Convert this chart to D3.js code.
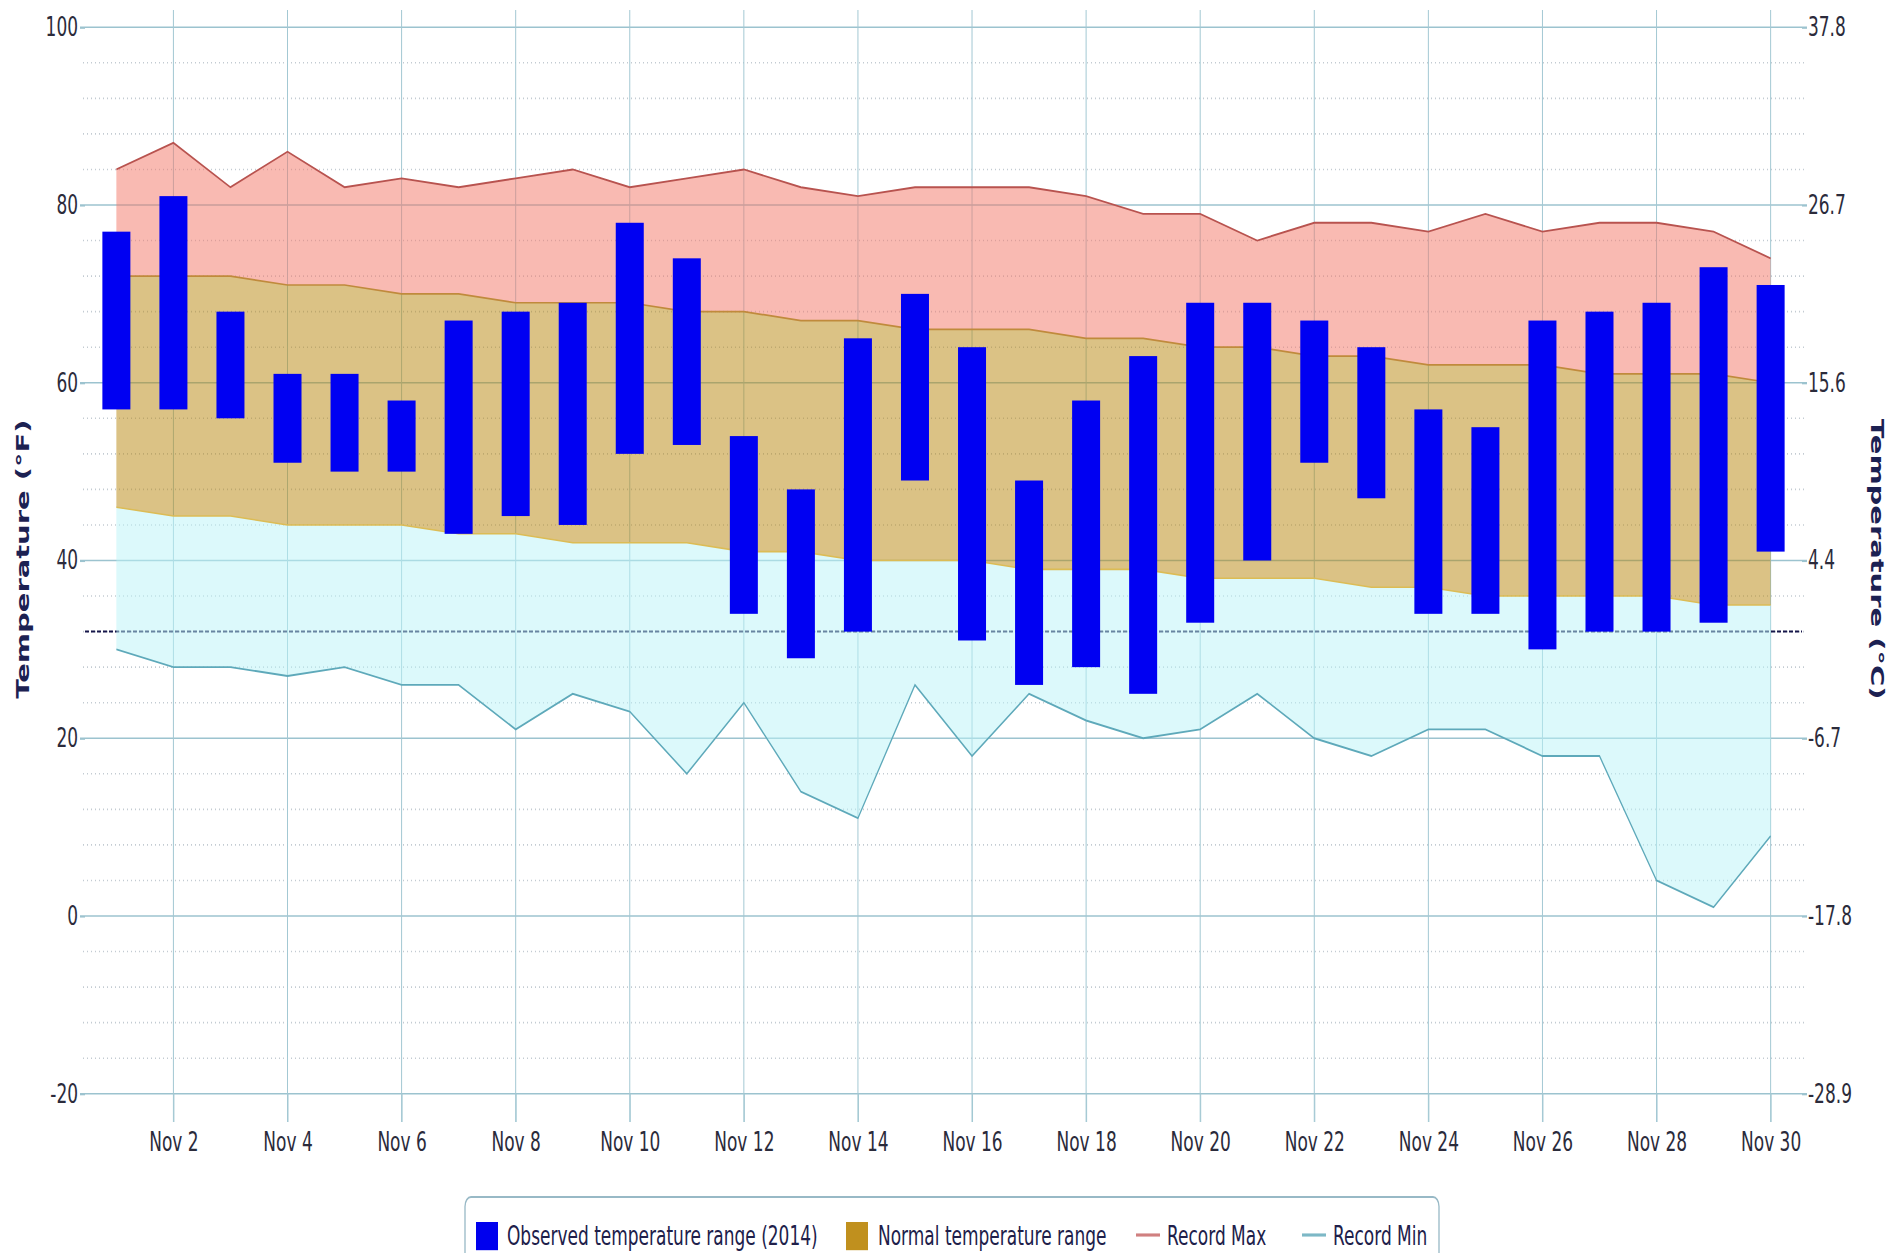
<!DOCTYPE html>
<html><head><meta charset="utf-8">
<script src="https://cdn.jsdelivr.net/npm/d3@7"></script>
<style>html,body{margin:0;padding:0;background:#fff;overflow:hidden}</style>
</head><body><div id="chart"></div>
<script>
// ---- data (°F) ----
const days = d3.range(1, 31);
const obsHigh = [77,81,68,61,61,58,67,68,69,78,74,54,48,65,70,64,49,58,63,69,69,67,64,57,55,67,68,69,73,71];
const obsLow  = [57,57,56,51,50,50,43,45,44,52,53,34,29,32,49,31,26,28,25,33,40,51,47,34,34,30,32,32,33,41];
const normalHigh = [72,72,72,71,71,70,70,69,69,69,68,68,67,67,66,66,66,65,65,64,64,63,63,62,62,62,61,61,61,60];
const normalLow  = [46,45,45,44,44,44,43,43,42,42,42,41,41,40,40,40,39,39,39,38,38,38,37,37,36,36,36,36,35,35];
const recordMax = [84,87,82,86,82,83,82,83,84,82,83,84,82,81,82,82,82,81,79,79,76,78,78,77,79,77,78,78,77,74];
const recordMin = [30,28,28,27,28,26,26,21,25,23,16,24,14,11,26,18,25,22,20,21,25,20,18,21,21,18,18,4,1,9];
const freezing = 32;
const fTicks = [-20,0,20,40,60,80,100];
const fTickLabels = ["-20","0","20","40","60","80","100"];
const cTickLabels = ["-28.9","-17.8","-6.7","4.4","15.6","26.7","37.8"];
const xTickDays = d3.range(2, 31, 2);
const xTickLabels = xTickDays.map(d => "Nov " + d);
const legendLabels = ["Observed temperature range (2014)","Normal temperature range","Record Max","Record Min"];

// ---- layout (picture is stretched vertically) ----
const W = 1895, H = 1253, BH = 800, K = H / BH;
const FONT = "'DejaVu Sans', Verdana, sans-serif";
const svg = d3.select('#chart').append('svg')
  .attr('width', W).attr('height', H)
  .attr('viewBox', `0 0 ${W} ${BH}`)
  .attr('preserveAspectRatio', 'none')
  .style('display', 'block')
  .style('font-family', FONT);

const left = 85, right = 1802;
const x = d3.scaleLinear().domain([0.45, 30.55]).range([left, right]);
const y = d3.scaleLinear().domain([-20, 100]).range([1093.75 / K, 27.25 / K]);
const plotTop = 10 / K;

const rows = days.map((d, i) => ({
  d, oh: obsHigh[i], ol: obsLow[i], nh: normalHigh[i], nl: normalLow[i], rx: recordMax[i], rn: recordMin[i]
}));

// ---- grid ----
const grid = svg.append('g');
const minors = d3.range(-16, 100, 4).filter(v => v % 20 !== 0);
grid.selectAll('line.minor').data(minors).join('line')
  .attr('x1', left - 2).attr('x2', right + 2)
  .attr('y1', v => y(v)).attr('y2', v => y(v))
  .attr('stroke', '#c3cbd2').attr('stroke-width', 1).attr('stroke-dasharray', '1,3');
grid.selectAll('line.major').data(fTicks).join('line')
  .attr('x1', left - 5).attr('x2', right + 5)
  .attr('y1', v => y(v)).attr('y2', v => y(v))
  .attr('stroke', '#9cc3cf').attr('stroke-width', 1);
grid.selectAll('line.vert').data(xTickDays).join('line')
  .attr('x1', d => x(d)).attr('x2', d => x(d))
  .attr('y1', plotTop).attr('y2', y(-20) + 18)
  .attr('stroke', '#a3c8d3').attr('stroke-width', 1);
// freezing line
grid.append('line')
  .attr('x1', left).attr('x2', right)
  .attr('y1', y(freezing)).attr('y2', y(freezing))
  .attr('stroke', '#16164a').attr('stroke-width', 1.3).attr('stroke-dasharray', '4,2');

// ---- areas ----
const areas = svg.append('g');
const aMax = d3.area().x(r => x(r.d)).y0(r => y(r.nh)).y1(r => y(r.rx));
const aNorm = d3.area().x(r => x(r.d)).y0(r => y(r.nl)).y1(r => y(r.nh));
const aMin = d3.area().x(r => x(r.d)).y0(r => y(r.rn)).y1(r => y(r.nl));
areas.append('path').attr('d', aMax(rows)).attr('fill', '#f37565').attr('fill-opacity', 0.5);
areas.append('path').attr('d', aNorm(rows)).attr('fill', '#b8860b').attr('fill-opacity', 0.5);
areas.append('path').attr('d', aMin(rows)).attr('fill', '#b9f3f7').attr('fill-opacity', 0.5);

const ln = acc => d3.line().x(r => x(r.d)).y(r => y(acc(r)));
areas.append('path').attr('d', ln(r => r.nh)(rows)).attr('fill', 'none').attr('stroke', '#c08a3c').attr('stroke-width', 1.1);
areas.append('path').attr('d', ln(r => r.nl)(rows)).attr('fill', 'none').attr('stroke', '#dcbc55').attr('stroke-width', 1);
areas.append('path').attr('d', ln(r => r.rx)(rows)).attr('fill', 'none').attr('stroke', '#b8534f').attr('stroke-width', 1.2);
areas.append('path').attr('d', ln(r => r.rn)(rows)).attr('fill', 'none').attr('stroke', '#5ea9ba').attr('stroke-width', 1.2);

// ---- observed bars ----
const bw = 28;
svg.append('g').selectAll('rect').data(rows).join('rect')
  .attr('x', r => x(r.d) - bw / 2).attr('width', bw)
  .attr('y', r => y(r.oh)).attr('height', r => y(r.ol) - y(r.oh))
  .attr('fill', '#0000f2');

// ---- axes ----
const tickColor = '#2b2b3b';
const yLeft = svg.append('g').attr('transform', `translate(${left},0)`)
  .call(d3.axisLeft(y).tickValues(fTicks).tickSize(5).tickPadding(2).tickFormat((v, i) => fTickLabels[i]));
const yRight = svg.append('g').attr('transform', `translate(${right},0)`)
  .call(d3.axisRight(y).tickValues(fTicks).tickSize(5).tickPadding(1).tickFormat((v, i) => cTickLabels[i]));
const xAx = svg.append('g').attr('transform', `translate(0,${y(-20)})`)
  .call(d3.axisBottom(x).tickValues(xTickDays).tickSize(18).tickPadding(6.6).tickFormat((v, i) => xTickLabels[i]));
[yLeft, yRight, xAx].forEach(g => {
  g.select('.domain').remove();
  g.selectAll('.tick line').attr('stroke', '#9cc3cf');
  g.selectAll('.tick text').attr('fill', tickColor).style('font-size', '17px').style('font-family', FONT);
});
yLeft.selectAll('.tick text').attr('dy', '0.30em');
yRight.selectAll('.tick text').attr('dy', '0.30em');
xAx.selectAll('.tick line').attr('stroke', '#a3c8d3');

// ---- axis titles ----
const titleColor = '#1c2152';
svg.append('text').attr('transform', `translate(29,357) rotate(-90)`)
  .attr('text-anchor', 'middle').attr('fill', titleColor)
  .style('font-size', '18.5px').style('font-weight', 'bold').text('Temperature (°F)');
svg.append('text').attr('transform', `translate(1870.5,357) rotate(90)`)
  .attr('text-anchor', 'middle').attr('fill', titleColor)
  .style('font-size', '18.5px').style('font-weight', 'bold').text('Temperature (°C)');

// ---- legend ----
const lg = svg.append('g');
lg.append('rect').attr('x', 465).attr('y', 1197 / K).attr('width', 974).attr('height', 60)
  .attr('rx', 6).attr('fill', '#fff').attr('stroke', '#98b9c6').attr('stroke-width', 1.3);
const ly = 1245 / K;
const symY = 1222 / K;
lg.append('rect').attr('x', 476).attr('y', symY).attr('width', 22).attr('height', 18).attr('fill', '#0000ee');
lg.append('rect').attr('x', 846).attr('y', symY).attr('width', 22).attr('height', 18).attr('fill', '#c0901e');
lg.append('line').attr('x1', 1136).attr('x2', 1160).attr('y1', 1235 / K).attr('y2', 1235 / K)
  .attr('stroke', '#d08080').attr('stroke-width', 2);
lg.append('line').attr('x1', 1302).attr('x2', 1326).attr('y1', 1235 / K).attr('y2', 1235 / K)
  .attr('stroke', '#7db8c6').attr('stroke-width', 2);
const lx = [507, 878, 1167, 1333];
lg.selectAll('text').data(legendLabels).join('text')
  .attr('x', (d, i) => lx[i]).attr('y', ly)
  .attr('fill', '#20204a').style('font-size', '17px').text(d => d);
</script>
</body></html>
